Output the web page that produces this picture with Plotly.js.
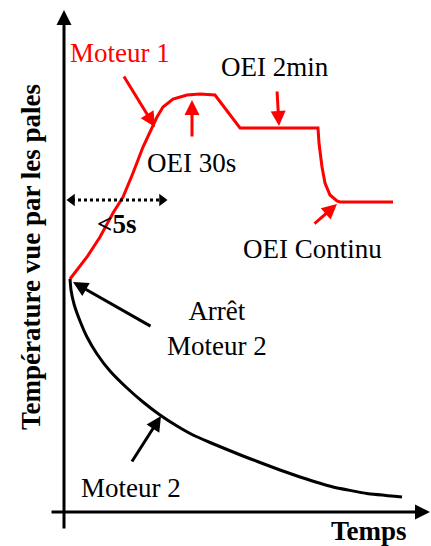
<!DOCTYPE html>
<html><head><meta charset="utf-8">
<script src="https://cdn.plot.ly/plotly-3.0.1.min.js"></script>
<style>
html,body{margin:0;padding:0;background:#fff;}
#chart text{font-family:"Liberation Serif","Times New Roman",Tinos,serif !important;}
</style>
</head><body><div id="chart"></div>
<script>
// Schematic: time (t) vs blade temperature (T), arbitrary units
const moteur1_t = [6,23,36,49,59,69,79,88,93,99,109,123,136,151,176,254,255,258,261,266,273,276,329];
const moteur1_T = [233,255,275,299,315,339,365,385,395,405,413,417,418,417,384,384,369,345,329,317,311,310,310];
const moteur2_t = [6,7,10,16,23,33,46,63,79,96,113,129,146,163,179,196,216,236,269,303,338];
const moteur2_T = [233,222,208,191,175,158,141,124,110,97,86,77,69.5,62.5,56,49.5,42,35,25,18.5,15];
const dur_t = [8,98];
const dur_T = [312,312];
const labels = ["Moteur 1","OEI 30s","<5s","OEI 2min","OEI Continu","Arrêt<br>Moteur 2","Moteur 2"];
const label_t = [56,127,52,211,248,153,67];
const label_T = [459,349,288,445,263,184,24];
const label_col = ["red","black","black","black","black","black","black"];
const label_bold = [false,false,true,false,false,false,false];
// pointer arrows: tail -> head
const arr_tail_t = [59,128,213,249,88,67];
const arr_tail_T = [437,374,422,287,185,49];
const arr_head_t = [91,128,215,273,9,97];
const arr_head_T = [385,412,386,308,230,96];
const arr_col = ["red","red","red","red","black","black"];
const xTitle = "Temps";
const yTitle = "Température vue par les pales";

const FONT = "Liberation Serif";
const traces = [
  {x: moteur1_t, y: moteur1_T, mode:'lines', line:{color:'red', width:3, shape:'linear'}, hoverinfo:'skip'},
  {x: moteur2_t, y: moteur2_T, mode:'lines', line:{color:'black', width:3, shape:'spline', smoothing:0.3}, hoverinfo:'skip'},
  {x: dur_t, y: dur_T, mode:'lines+markers', line:{color:'black', width:3, dash:'dot'},
   marker:{symbol:['triangle-left','triangle-right'], size:11, color:'black'}, hoverinfo:'skip'}
];
const ann = [];
// axes with arrow heads
ann.push({x:0, y:502, ax:0, ay:-18, axref:'x', ayref:'y', xref:'x', yref:'y', text:'', showarrow:true, arrowhead:2, arrowsize:1, arrowwidth:3, arrowcolor:'black'});
ann.push({x:366, y:0, ax:-14, ay:0, axref:'x', ayref:'y', xref:'x', yref:'y', text:'', showarrow:true, arrowhead:2, arrowsize:1, arrowwidth:3, arrowcolor:'black'});
for (let i=0;i<arr_tail_t.length;i++){
  ann.push({x:arr_head_t[i], y:arr_head_T[i], ax:arr_tail_t[i], ay:arr_tail_T[i], axref:'x', ayref:'y', xref:'x', yref:'y',
    text:'', showarrow:true, arrowhead:2, arrowsize:1, arrowwidth:3, arrowcolor:arr_col[i]});
}
for (let i=0;i<labels.length;i++){
  ann.push({x:label_t[i], y:label_T[i], xref:'x', yref:'y', showarrow:false,
    text: label_bold[i] ? '<b>'+labels[i]+'</b>' : labels[i],
    font:{family:FONT, size:27, color:label_col[i]}});
}
ann.push({x:305, y:-19, xref:'x', yref:'y', showarrow:false, text:'<b>'+xTitle+'</b>', font:{family:FONT, size:27, color:'black'}});
ann.push({x:-33, y:255, xref:'x', yref:'y', showarrow:false, textangle:-90, text:'<b>'+yTitle+'</b>', font:{family:FONT, size:27, color:'black'}});

const layout = {
  width:431, height:546, margin:{l:0,r:0,t:0,b:0},
  font:{family:FONT, size:27},
  paper_bgcolor:'white', plot_bgcolor:'white', showlegend:false,
  xaxis:{range:[-64,367], visible:false},
  yaxis:{range:[-34,512], visible:false},
  annotations: ann
};
Plotly.newPlot('chart', traces, layout, {displayModeBar:false});
</script></body></html>
